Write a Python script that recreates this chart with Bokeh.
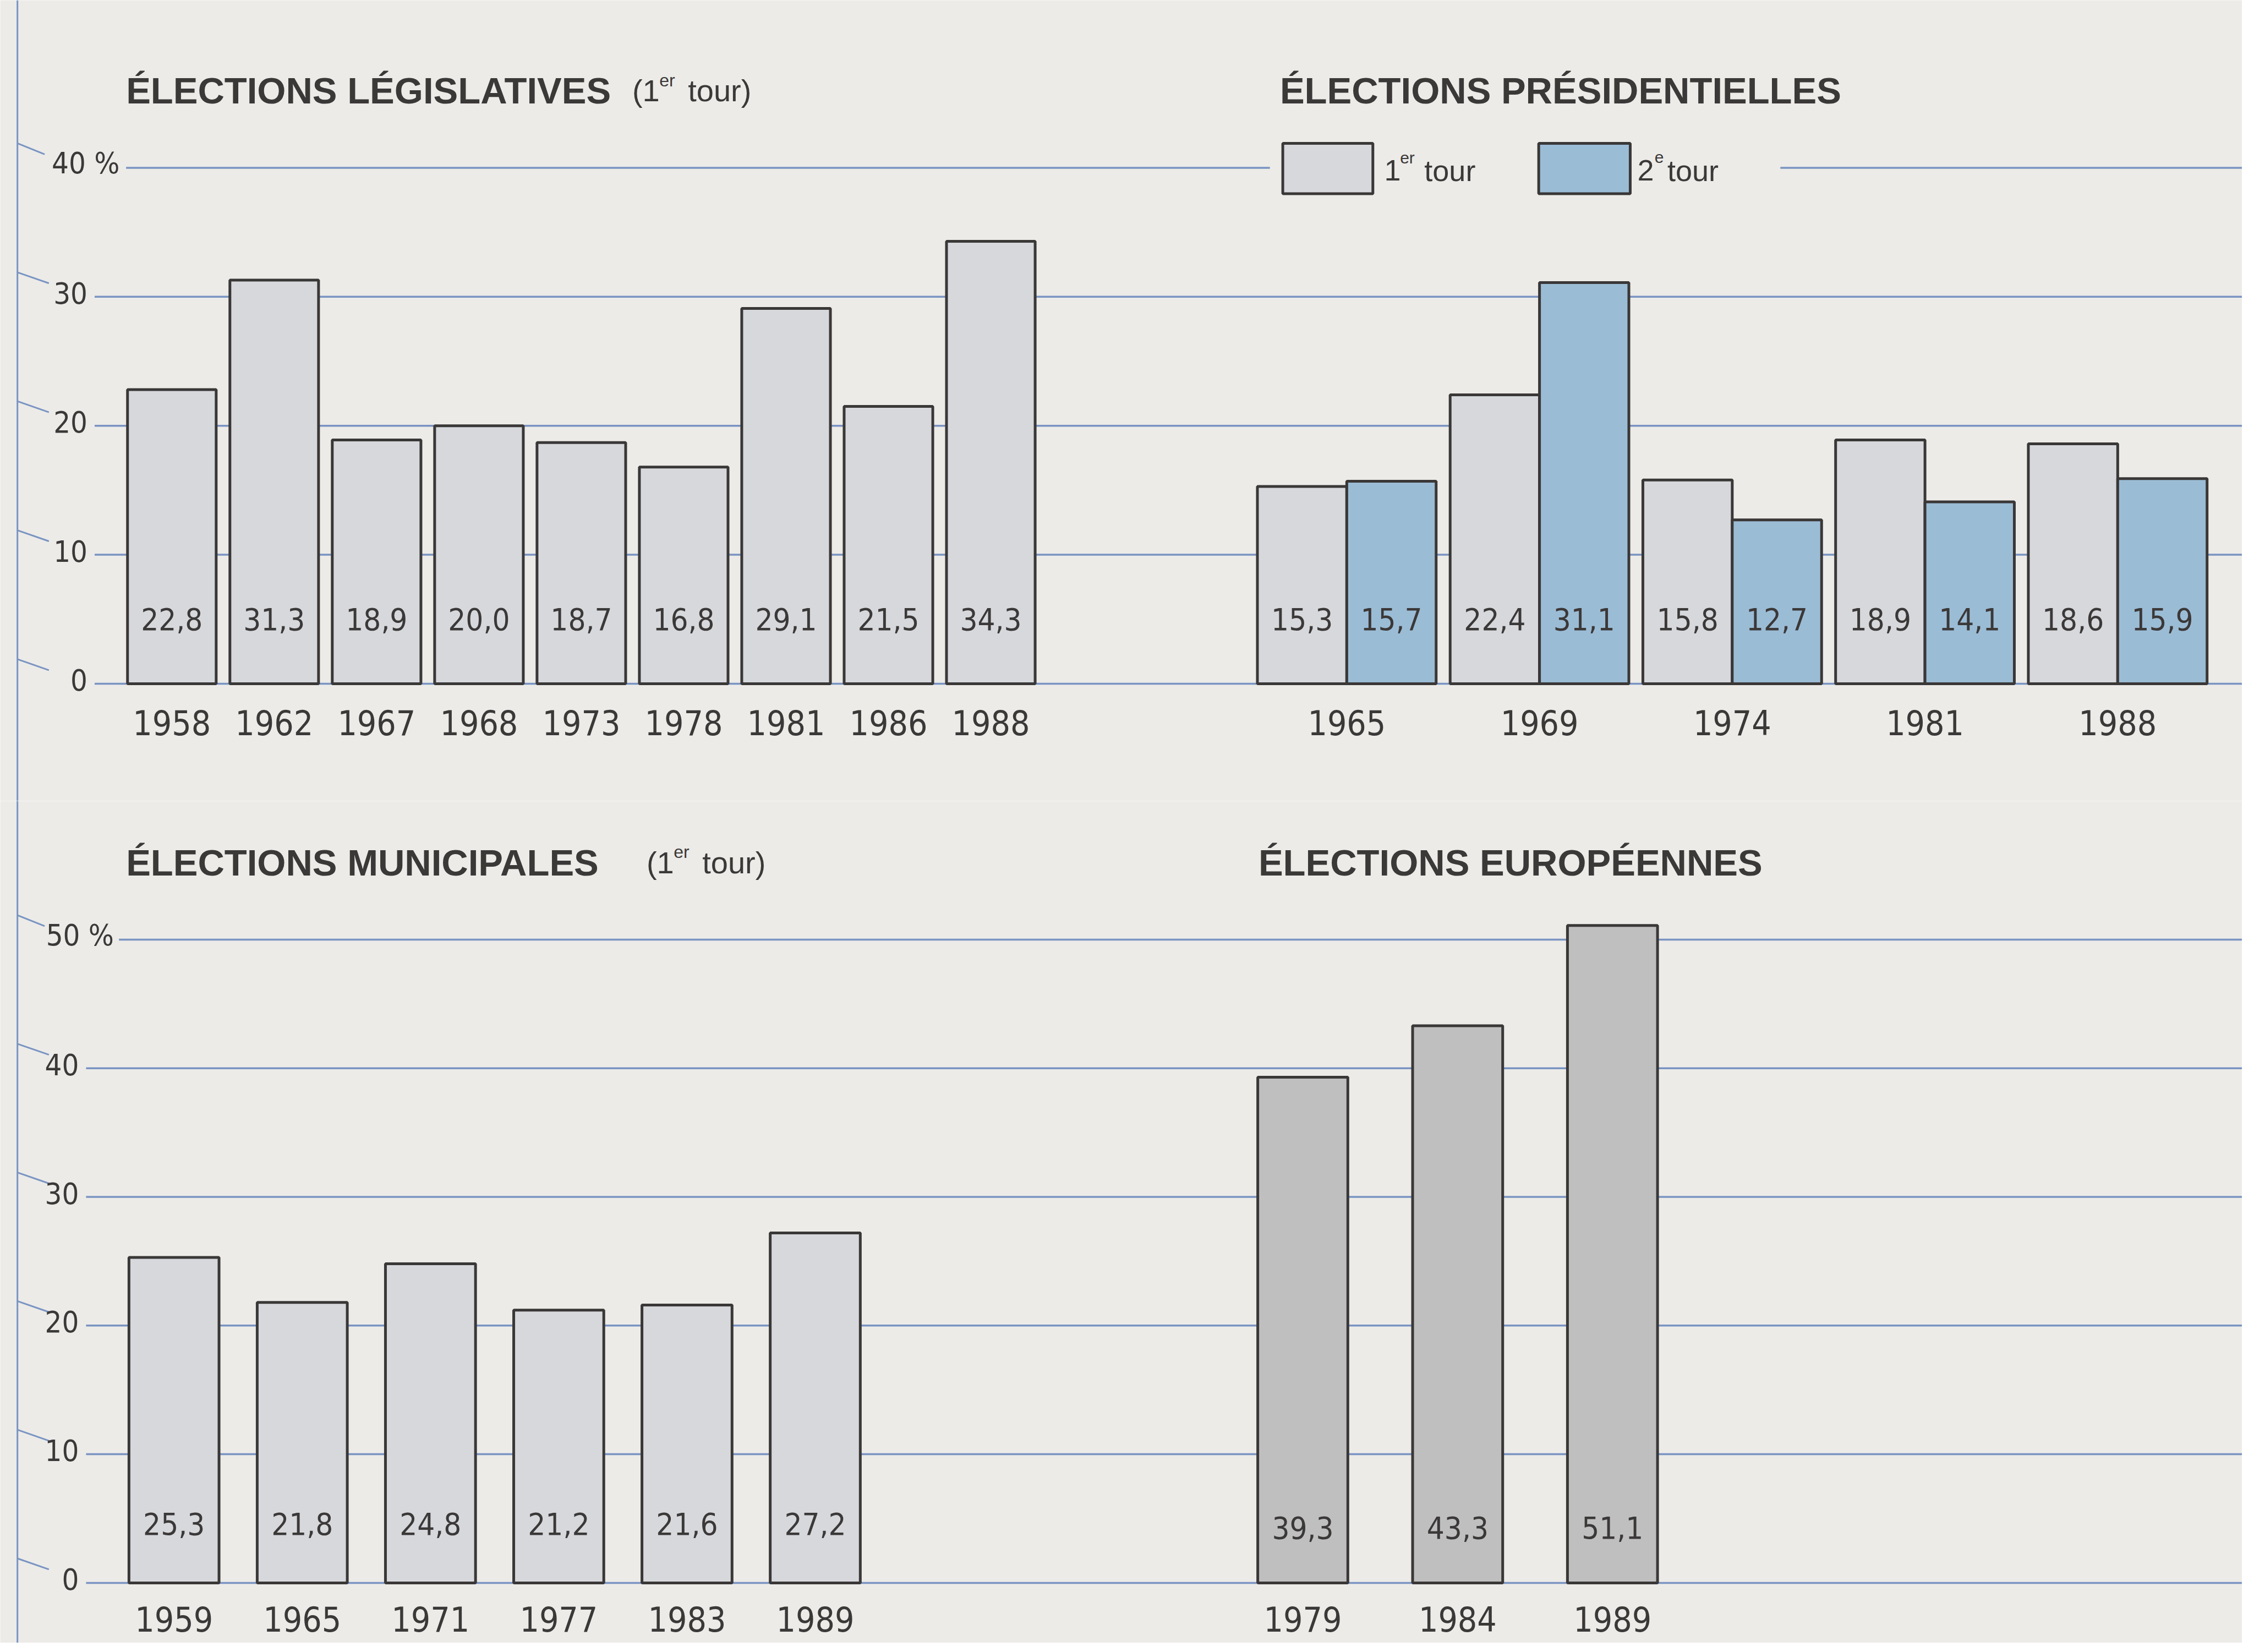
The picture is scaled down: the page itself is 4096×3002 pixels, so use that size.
from bokeh.plotting import figure
from bokeh.models import Span, Range1d
from bokeh.layouts import column
from bokeh.embed import file_html
from bokeh.resources import INLINE
from bokeh.core.properties import value

# ---------------- data ----------------
leg_years = ["1958", "1962", "1967", "1968", "1973", "1978", "1981", "1986", "1988"]
leg_values = [22.8, 31.3, 18.9, 20.0, 18.7, 16.8, 29.1, 21.5, 34.3]

pres_years = ["1965", "1969", "1974", "1981", "1988"]
pres_tour1 = [15.3, 22.4, 15.8, 18.9, 18.6]
pres_tour2 = [15.7, 31.1, 12.7, 14.1, 15.9]

mun_years = ["1959", "1965", "1971", "1977", "1983", "1989"]
mun_values = [25.3, 21.8, 24.8, 21.2, 21.6, 27.2]

eur_years = ["1979", "1984", "1989"]
eur_values = [39.3, 43.3, 51.1]

top_ticks = [0, 10, 20, 30, 40]
bottom_ticks = [0, 10, 20, 30, 40, 50]

# ---------------- style ----------------
BG = "#ecebe8"
GRID = "#7a94c2"
TXT = "#3b3838"
EDGE = "#3a3737"
LIGHT = "#d6d8dc"
BLUE = "#9bbcd5"
DARK = "#bfbfbf"
NARROW = "DejaVu Sans Condensed"
SANS = "Liberation Sans"

VAL_SIZE = 56
YEAR_SIZE = 62
TICK_SIZE = 54
EDGE_W = 5

W = 4074
PAGE_W = 1568.0
S = W / PAGE_W


def fmt(v):
    return f"{v:.1f}".replace(".", ",")


def make_fig(y0_px, y1_px, zero_px, k):
    h = int(round((y1_px - y0_px) * S))
    p = figure(width=W, height=h, output_backend="svg", toolbar_location=None,
               x_range=Range1d(0, PAGE_W),
               y_range=Range1d(-(y1_px - zero_px) / k, (zero_px - y0_px) / k),
               min_border=0, background_fill_color=BG, border_fill_color=BG,
               outline_line_color=None)
    p.axis.visible = False
    p.xgrid.visible = False
    p.ygrid.visible = False
    p.add_layout(Span(location=12, dimension="height", line_color=GRID, line_width=3))
    return p


def txt(p, x, y, s, size, font=NARROW, align="left", bold=False, baseline="middle"):
    p.text(x=[x], y=[y], text=[s], text_font=value(font),
           text_font_size=value(f"{size}px"), text_align=align,
           text_baseline=baseline, text_color=TXT,
           text_font_style="bold" if bold else "normal")


def many(p, xs, y, labels, size):
    p.text(x=xs, y=[y] * len(xs), text=labels, text_font=value(NARROW),
           text_font_size=value(f"{size}px"), text_align="center",
           text_baseline="middle", text_color=TXT)


def grid_and_ticks(p, ticks, starts, label_right, pct_left, ends=None):
    top = max(ticks)
    for t in ticks:
        default = [(starts.get(t, starts["default"]), PAGE_W)]
        segs = ends.get(t, default) if ends else default
        for a, b in segs:
            p.segment(x0=[a], y0=[t], x1=[b], y1=[t], line_color=GRID, line_width=3.5)
        # curved stub from the vertical axis
        p.segment(x0=[12], y0=[t + 1.9], x1=[31 if t == top else 34], y1=[t + 1.05],
                  line_color=GRID, line_width=3)
        if t == top:
            txt(p, pct_left, t + 0.35, f"{t} %", TICK_SIZE)
        else:
            txt(p, label_right, t + 0.3, f"{t}", TICK_SIZE, align="right")


# ================= TOP ROW =================
top = make_fig(0, 560, 478, 9.02)

grid_and_ticks(top, top_ticks, {"default": 66, 40: 88}, 61, 36,
               ends={40: [(88, 888), (1245, PAGE_W)]})

# Législatives
leg_x = [120 + i * 71.6 for i in range(len(leg_years))]
top.vbar(x=leg_x, top=leg_values, bottom=0, width=62, fill_color=LIGHT,
         line_color=EDGE, line_width=EDGE_W)
many(top, leg_x, 5.0, [fmt(v) for v in leg_values], VAL_SIZE)
many(top, leg_x, -3.0, leg_years, YEAR_SIZE)

txt(top, 88, 46.0, "ÉLECTIONS LÉGISLATIVES", 67, font=SANS, bold=True)
txt(top, 442, 46.0, "(1", 56, font=SANS)
txt(top, 461, 46.8, "er", 32, font=SANS)
txt(top, 481, 46.0, "tour)", 56, font=SANS)

# Présidentielles
p1_x = [910.5 + i * 134.8 for i in range(len(pres_years))]
p2_x = [x + 62.5 for x in p1_x]
top.vbar(x=p1_x, top=pres_tour1, bottom=0, width=62.5, fill_color=LIGHT,
         line_color=EDGE, line_width=EDGE_W)
top.vbar(x=p2_x, top=pres_tour2, bottom=0, width=62.5, fill_color=BLUE,
         line_color=EDGE, line_width=EDGE_W)
many(top, p1_x, 5.0, [fmt(v) for v in pres_tour1], VAL_SIZE)
many(top, p2_x, 5.0, [fmt(v) for v in pres_tour2], VAL_SIZE)
many(top, [(a + b) / 2 for a, b in zip(p1_x, p2_x)], -3.0, pres_years, YEAR_SIZE)

txt(top, 895, 46.0, "ÉLECTIONS PRÉSIDENTIELLES", 67, font=SANS, bold=True)

# legend
top.quad(left=[897], right=[960], bottom=[38.0], top=[41.9], fill_color=LIGHT,
         line_color=EDGE, line_width=EDGE_W)
top.quad(left=[1076], right=[1140], bottom=[38.0], top=[41.9], fill_color=BLUE,
         line_color=EDGE, line_width=EDGE_W)
txt(top, 968, 39.8, "1", 54, font=SANS)
txt(top, 979, 40.8, "er", 30, font=SANS)
txt(top, 996, 39.8, "tour", 54, font=SANS)
txt(top, 1145, 39.8, "2", 54, font=SANS)
txt(top, 1157, 40.8, "e", 30, font=SANS)
txt(top, 1166, 39.8, "tour", 54, font=SANS)

# ================= BOTTOM ROW =================
bot = make_fig(560, 1149, 1107, 9.0)

grid_and_ticks(bot, bottom_ticks, {"default": 60, 50: 83}, 55, 32)

# Municipales
mun_x = [121.5 + i * 89.7 for i in range(len(mun_years))]
bot.vbar(x=mun_x, top=mun_values, bottom=0, width=63, fill_color=LIGHT,
         line_color=EDGE, line_width=EDGE_W)
many(bot, mun_x, 4.6, [fmt(v) for v in mun_values], VAL_SIZE)
many(bot, mun_x, -2.8, mun_years, YEAR_SIZE)

txt(bot, 88, 56.0, "ÉLECTIONS MUNICIPALES", 67, font=SANS, bold=True)
txt(bot, 452, 56.0, "(1", 56, font=SANS)
txt(bot, 471, 56.8, "er", 32, font=SANS)
txt(bot, 491, 56.0, "tour)", 56, font=SANS)

# Européennes
eur_x = [911 + i * 108.3 for i in range(len(eur_years))]
bot.vbar(x=eur_x, top=eur_values, bottom=0, width=63, fill_color=DARK,
         line_color=EDGE, line_width=EDGE_W)
many(bot, eur_x, 4.3, [fmt(v) for v in eur_values], VAL_SIZE)
many(bot, eur_x, -2.8, eur_years, YEAR_SIZE)

txt(bot, 880, 56.0, "ÉLECTIONS EUROPÉENNES", 67, font=SANS, bold=True)

layout = column(top, bot, spacing=0)
open("out.html", "w").write(file_html(layout, INLINE))
